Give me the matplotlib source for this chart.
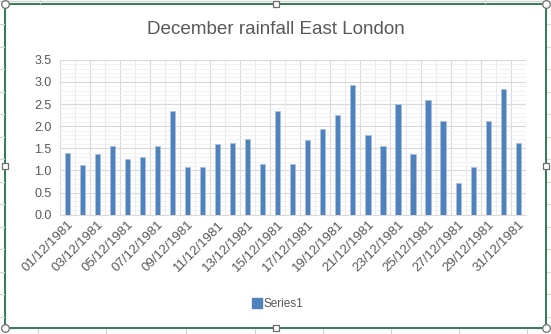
import numpy as np
import matplotlib.pyplot as plt
from matplotlib.lines import Line2D
from matplotlib.patches import Rectangle

# Daily rainfall, December 1981
days = [f"{d:02d}/12/1981" for d in range(1, 32)]
rainfall = [1.40, 1.12, 1.38, 1.55, 1.27, 1.30, 1.55, 2.34, 1.07, 1.07,
            1.60, 1.63, 1.71, 1.14, 2.34, 1.15, 1.69, 1.93, 2.26, 2.93,
            1.81, 1.55, 2.50, 1.38, 2.60, 2.11, 0.71, 1.07, 2.11, 2.83,
            1.63]

text_grey = '#595959'
bar_blue = '#4F81BD'

plt.rcParams['font.family'] = ['Liberation Sans', 'DejaVu Sans']

fig = plt.figure(figsize=(5.51, 3.34), dpi=100)
ax = fig.add_axes([0.109, 0.357, 0.845, 0.464])

x = np.arange(len(days))
ax.bar(x, rainfall, width=0.34, color=bar_blue, edgecolor='#a9c1e0',
       linewidth=0.6, label='Series1', zorder=3)

ax.set_xlim(-0.5, len(days) - 0.5)
ax.set_ylim(0, 3.5)
ax.set_yticks(np.arange(0, 3.51, 0.5))
ax.set_yticklabels([f"{v:.1f}" for v in np.arange(0, 3.51, 0.5)])
ax.set_yticks(np.arange(0, 3.51, 0.1), minor=True)

# category gridlines between bars, heavier every second day
ax.set_xticks(x[::2])
ax.set_xticklabels(days[::2], rotation=45, ha='right', va='top',
                   rotation_mode='anchor')
for b in np.arange(-0.5, len(days), 1.0):
    heavy = int(b + 0.5) % 2 == 0
    ax.axvline(b, color='#d9d9d9' if heavy else '#ebebeb', lw=0.8, zorder=1)

ax.grid(axis='y', which='major', color='#d9d9d9', lw=0.8, zorder=1)
ax.grid(axis='y', which='minor', color='#f0f0f0', lw=0.6, zorder=0)

for s in ['top', 'right', 'left']:
    ax.spines[s].set_visible(False)
ax.spines['bottom'].set_color('#d9d9d9')
ax.tick_params(axis='both', which='both', length=0, colors=text_grey)
ax.tick_params(axis='y', pad=6, labelsize=9)
ax.tick_params(axis='x', pad=3, labelsize=9.5)

fig.text(0.5, 0.913, 'December rainfall East London', ha='center',
         va='center', fontsize=13.6, color=text_grey)

fig.legend(handles=[Line2D([], [], marker='s', ls='', color=bar_blue,
                           markersize=6.5, label='Series1')],
           loc='center', bbox_to_anchor=(0.503, 0.09), frameon=False,
           fontsize=8.5, labelcolor=text_grey, handletextpad=0.1,
           handlelength=1.0)

# worksheet cell lines around the chart object
cell = '#d4d4d4'
for yy in np.arange(24, 334, 22.5):
    fig.add_artist(Line2D([0, 4 / 551], [1 - yy / 334] * 2, color=cell, lw=0.8))
    fig.add_artist(Line2D([547 / 551, 1], [1 - yy / 334] * 2, color=cell, lw=0.8))
for xx in [38, 106, 186, 255, 323, 391, 459, 527]:
    fig.add_artist(Line2D([xx / 551] * 2, [0, 5 / 334], color=cell, lw=0.8))
for xx in [40, 485]:
    fig.add_artist(Line2D([xx / 551] * 2, [1 - 3 / 334, 1], color=cell, lw=0.8))
fig.add_artist(Line2D([0, 1], [1 - 0.5 / 334] * 2, color=cell, lw=1.0))

# chart selection frame with handles
x0, y0, x1, y1 = 5 / 551, 1 - 328 / 334, 546 / 551, 1 - 3.5 / 334
fig.add_artist(Rectangle((x0, y0), x1 - x0, y1 - y0, fill=False,
                         edgecolor='#217346', lw=1.3))
for hx, hy in [(x0, y0), (x1, y0), (x0, y1), (x1, y1)]:
    fig.add_artist(Line2D([hx], [hy], marker='o', ms=5.5, mfc='white',
                          mec='#6e6e6e', mew=0.9))
for hx, hy in [(x0, (y0 + y1) / 2), (x1, (y0 + y1) / 2),
               ((x0 + x1) / 2, y0), ((x0 + x1) / 2, y1)]:
    fig.add_artist(Line2D([hx], [hy], marker='s', ms=5, mfc='white',
                          mec='#6e6e6e', mew=0.9))

fig.savefig('out.png', dpi=100)
